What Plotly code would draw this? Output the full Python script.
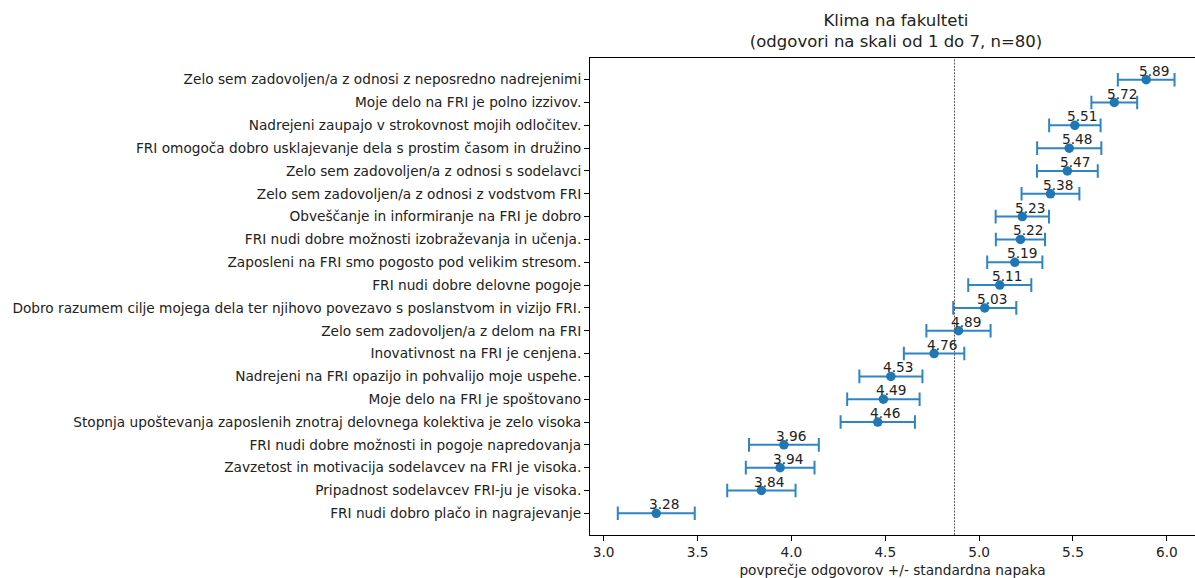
import numpy as np
import plotly.graph_objects as go

categories = [
    "Zelo sem zadovoljen/a z odnosi z neposredno nadrejenimi",
    "Moje delo na FRI je polno izzivov.",
    "Nadrejeni zaupajo v strokovnost mojih odločitev.",
    "FRI omogoča dobro usklajevanje dela s prostim časom in družino",
    "Zelo sem zadovoljen/a z odnosi s sodelavci",
    "Zelo sem zadovoljen/a z odnosi z vodstvom FRI",
    "Obveščanje in informiranje na FRI je dobro",
    "FRI nudi dobre možnosti izobraževanja in učenja.",
    "Zaposleni na FRI smo pogosto pod velikim stresom.",
    "FRI nudi dobre delovne pogoje",
    "Dobro razumem cilje mojega dela ter njihovo povezavo s poslanstvom in vizijo FRI.",
    "Zelo sem zadovoljen/a z delom na FRI",
    "Inovativnost na FRI je cenjena.",
    "Nadrejeni na FRI opazijo in pohvalijo moje uspehe.",
    "Moje delo na FRI je spoštovano",
    "Stopnja upoštevanja zaposlenih znotraj delovnega kolektiva je zelo visoka",
    "FRI nudi dobre možnosti in pogoje napredovanja",
    "Zavzetost in motivacija sodelavcev na FRI je visoka.",
    "Pripadnost sodelavcev FRI-ju je visoka.",
    "FRI nudi dobro plačo in nagrajevanje",
]
means = [5.89, 5.72, 5.51, 5.48, 5.47, 5.38, 5.23, 5.22, 5.19, 5.11,
         5.03, 4.89, 4.76, 4.53, 4.49, 4.46, 3.96, 3.94, 3.84, 3.28]
std_errors = [0.151, 0.122, 0.137, 0.171, 0.162, 0.154, 0.142, 0.131, 0.147, 0.168,
              0.168, 0.171, 0.161, 0.168, 0.193, 0.198, 0.186, 0.183, 0.182, 0.205]
x_ticks = [3.0, 3.5, 4.0, 4.5, 5.0, 5.5, 6.0]

title_text = "Klima na fakulteti<br>(odgovori na skali od 1 do 7, n=80)"
x_title = "povprečje odgovorov +/- standardna napaka"

BLUE = "#1f77b4"
FONT = "DejaVu Sans"
FS = 13.7

fig = go.Figure()
fig.add_trace(go.Scatter(
    x=means, y=categories, mode="markers",
    marker=dict(color=BLUE, size=9.5),
    error_x=dict(type="data", array=std_errors, visible=True,
                 color="#2f84c2", thickness=2, width=6.8),
    showlegend=False, hoverinfo="x+y",
))

overall_mean = float(np.mean(means))
fig.add_shape(type="line", xref="x", yref="paper", x0=overall_mean, x1=overall_mean,
              y0=0, y1=1, line=dict(color="rgb(90,90,90)", width=1, dash="2px,1.2px"))

for m, c in zip(means, categories):
    fig.add_annotation(x=m, y=c, text=f"{m:.2f}", showarrow=False,
                       xanchor="left", yanchor="bottom", xshift=-9.5, yshift=-1,
                       font=dict(family=FONT, size=FS, color="#222"))

fig.update_layout(
    width=1195, height=578,
    margin=dict(l=590, r=0, t=58, b=43),
    plot_bgcolor="white", paper_bgcolor="white",
    font=dict(family=FONT, size=FS, color="#222"),
    title=dict(text=title_text, x=896 / 1195, xanchor="center", xref="container",
               y=1 - 26 / 578, yanchor="middle", yref="container",
               font=dict(family=FONT, size=16.5, color="#222")),
)
fig.update_xaxes(range=[2.927, 6.150], tickvals=x_ticks, tickformat=".1f",
                 showline=True, linecolor="black", linewidth=1, mirror=True,
                 ticks="outside", ticklen=5, tickcolor="black",
                 showgrid=False, zeroline=False,
                 title=dict(text=x_title, standoff=10, font=dict(family=FONT, size=FS)),
                 automargin=False, tickfont=dict(family=FONT, size=FS))
fig.update_yaxes(type="category", categoryorder="array", categoryarray=categories,
                 range=[len(categories) - 1 + 0.95, -0.95],
                 showline=True, linecolor="black", linewidth=1, mirror=False,
                 ticks="outside", ticklen=5, tickcolor="black", ticklabelstandoff=0,
                 showgrid=False, zeroline=False, automargin=False,
                 tickfont=dict(family=FONT, size=FS))

fig.write_html("out.html", config={"displayModeBar": False},
               post_script="document.body.style.margin='0';document.body.style.overflow='hidden';")
